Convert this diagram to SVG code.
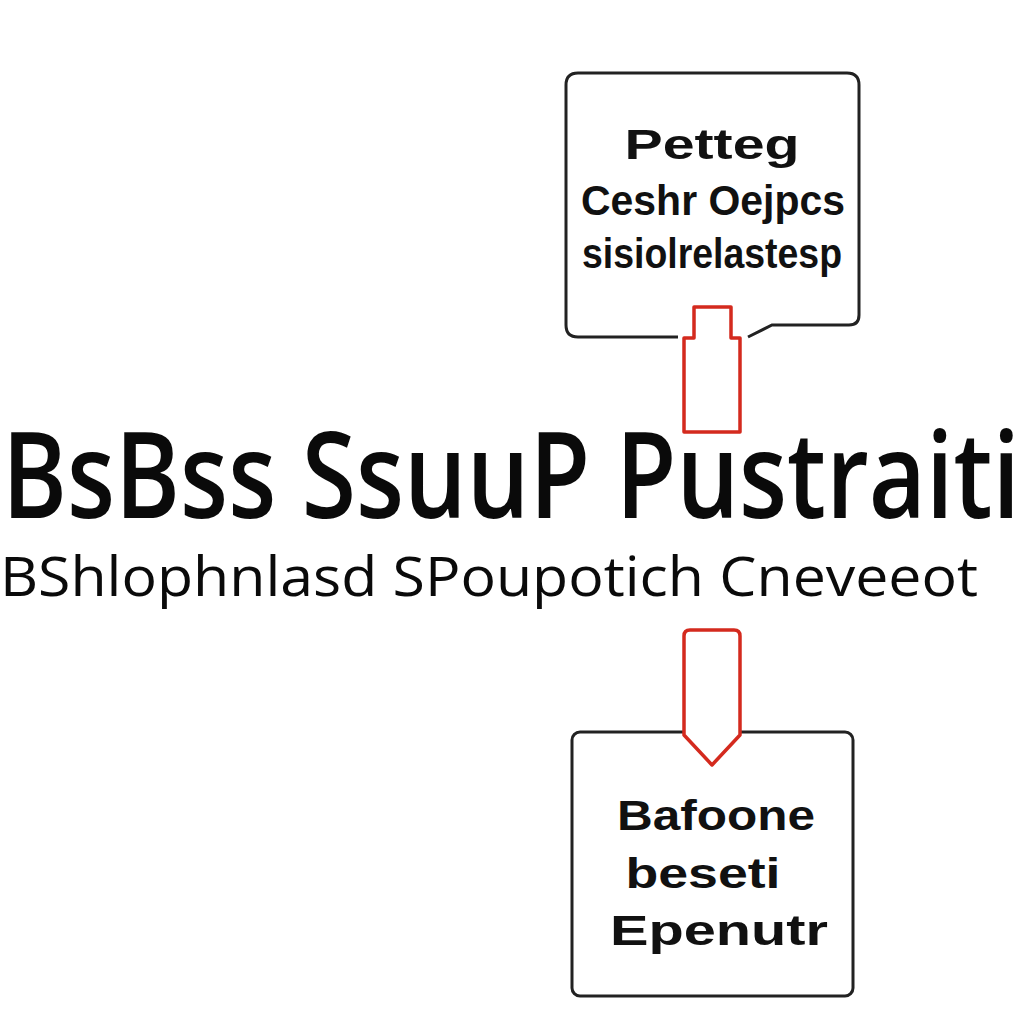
<svg xmlns="http://www.w3.org/2000/svg" width="1024" height="1024" viewBox="0 0 1024 1024">
<style>
.box{fill:#ffffff;stroke:#222;stroke-width:3}
.red{fill:#ffffff;stroke:#d42a1e;stroke-width:3.5;stroke-linejoin:round}
.lbl{font-family:"Liberation Sans",Arial,sans-serif;font-weight:bold;font-size:42px;fill:#111;text-anchor:middle}
.big{font-family:"Open Sans","Noto Sans",sans-serif;fill:#0a0a0a}
</style>
<rect width="1024" height="1024" fill="#ffffff"/>
<g id="node-top">
<path class="box" d="M678,337 L578,337 Q566,337 566,325 L566,85 Q566,73 578,73 L847,73 Q859,73 859,85 L859,315 Q859,325 849,325 L772,325 L748,337"/>
<text class="lbl" x="712" y="159" font-size="46" textLength="175" lengthAdjust="spacingAndGlyphs">Petteg</text>
<text class="lbl" x="713" y="215" textLength="264" lengthAdjust="spacingAndGlyphs">Ceshr Oejpcs</text>
<text class="lbl" x="712" y="268" font-size="36" textLength="260" lengthAdjust="spacingAndGlyphs">sisiolrelastesp</text>
</g>
<g id="title">
<text class="big" x="2" y="518" font-size="120" font-weight="600" textLength="1018" lengthAdjust="spacingAndGlyphs">BsBss SsuuP Pustraiti</text>
<text class="big" x="0" y="596" font-size="54" font-weight="500" textLength="978" lengthAdjust="spacingAndGlyphs">BShlophnlasd SPoupotich Cneveeot</text>
</g>
<g id="node-bottom">
<rect class="box" x="572" y="732" width="281" height="264" rx="8"/>
<text class="lbl" x="716" y="830" textLength="198" lengthAdjust="spacingAndGlyphs">Bafoone</text>
<text class="lbl" x="703" y="888" textLength="155" lengthAdjust="spacingAndGlyphs">beseti</text>
<text class="lbl" x="719" y="945" textLength="218" lengthAdjust="spacingAndGlyphs">Epenutr</text>
</g>
<g id="connectors">
<path class="red" d="M694,338 L694,307 L731,307 L731,338 L740,338 L740,432 L684,432 L684,338 Z"/>
<path class="red" d="M684,636 Q684,630 690,630 L734,630 Q740,630 740,636 L740,735 L712,765 L684,735 Z"/>
</g>
</svg>
